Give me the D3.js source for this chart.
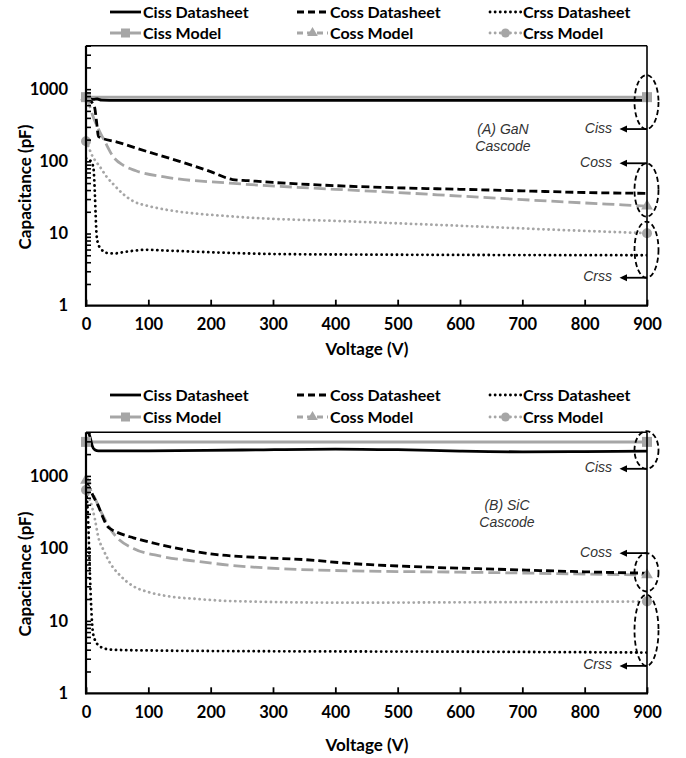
<!DOCTYPE html>
<html><head><meta charset="utf-8">
<script src="https://cdn.jsdelivr.net/npm/d3@7"></script>
<style>body{margin:0;background:#fff}svg{display:block}</style>
</head><body><svg id="c" width="686" height="758"></svg>
<script>
// ---------- DATA: [voltage (V), capacitance (pF)] ----------
// (A) GaN cascode
const ganCissDatasheet = [[0,760],[5,740],[12,720],[18,730],[25,705],[50,700],[300,700],[600,700],[900,700]];
const ganCissModel     = [[0,775],[900,775]];
const ganCossDatasheet = [[0,720],[5,700],[10,650],[14,550],[17,350],[20,220],[50,185],[100,135],[150,100],[200,72],[235,56],[260,54],[300,51],[400,46],[500,43],[600,41],[700,39],[800,37],[900,36]];
const ganCossModel     = [[0,780],[5,620],[10,450],[20,280],[30,190],[44,115],[60,88],[80,74],[130,60],[230,50],[400,41],[500,37],[600,33],[700,29.5],[800,26.5],[900,24]];
const ganCrssDatasheet = [[0,110],[8,100],[12,80],[14,40],[15.5,18],[17,9.5],[20,7],[25,6],[32,5.4],[45,5.3],[65,5.6],[95,5.95],[130,5.8],[200,5.5],[300,5.2],[450,5.1],[900,5.0]];
const ganCrssModel     = [[0,190],[4,160],[8,130],[14,105],[22,85],[32,63],[44,48],[60,35],[76,28],[100,24],[130,21.3],[236,17.2],[423,14.7],[600,12.8],[750,11.3],[900,10.1]];
// (B) SiC cascode
const sicCissDatasheet = [[0,4000],[4,3950],[7,3300],[10,2600],[14,2300],[20,2220],[100,2220],[250,2280],[400,2350],[500,2300],[600,2200],[700,2150],[800,2170],[900,2200]];
const sicCissModel     = [[0,2950],[900,2950]];
const sicCossDatasheet = [[0,800],[5,700],[11,540],[20,380],[27,270],[33,210],[42,180],[51,165],[76,140],[120,112],[160,95],[210,82],[290,74],[350,70],[423,62],[550,55],[659,51.6],[800,47.5],[900,45.5]];
const sicCossModel     = [[0,870],[5,700],[14,500],[22,350],[30,255],[40,180],[50,140],[76,100],[120,78],[180,66],[236,58],[423,49],[600,47],[750,45],[900,43]];
const sicCrssDatasheet = [[0,600],[3,300],[5,100],[7,30],[9,12],[11,7],[15,5.3],[25,4.3],[40,4.0],[100,3.9],[300,3.8],[600,3.75],[900,3.65]];
const sicCrssModel     = [[0,640],[6,480],[14,260],[20,140],[28,95],[38,64],[55,42],[76,30],[100,25],[130,22],[180,20],[236,18.7],[423,17.8],[600,18],[750,18.2],[900,18.5]];

const xTickValues = [0,100,200,300,400,500,600,700,800,900];
const yTickLabels = [1,10,100,1000];
const seriesNames = ["Ciss Datasheet","Coss Datasheet","Crss Datasheet","Ciss Model","Coss Model","Crss Model"];
const panelTitles = [["(A) GaN","Cascode"],["(B) SiC","Cascode"]];
// annotation ellipses at 900 V: [label, upper pF, lower pF, arrow at ("top"/"bottom")]
const ganAnnotations = [["Ciss",1570,280,"bottom"],["Coss",94,17.1,"top"],["Crss",14.6,2.44,"bottom"]];
const sicAnnotations = [["Ciss",4150,1254,"bottom"],["Coss",86,25.4,"top"],["Crss",22.9,2.39,"bottom"]];

// ---------- STYLE ----------
const GRAY = "#a6a6a6";
const styles = {
  "Ciss Datasheet": {color:"#000", dash:null, w:2.8},
  "Coss Datasheet": {color:"#000", dash:"8,4", w:2.8},
  "Crss Datasheet": {color:"#000", dash:"0.1,5", w:2.8, cap:"round"},
  "Ciss Model": {color:GRAY, dash:null, w:3},
  "Coss Model": {color:GRAY, dash:"12,5", w:2.8, marker:"triangle"},
  "Crss Model": {color:GRAY, dash:"0.1,5", w:2.8, cap:"round", marker:"circle"}
};
styles["Ciss Model"].marker = "square";
const FONT = "Lato, 'Open Sans', sans-serif";

const panels = [
  {top:45.7, bottom:305.7, legendY:[12,33], data:[ganCissDatasheet,ganCossDatasheet,ganCrssDatasheet,ganCissModel,ganCossModel,ganCrssModel],
   title:panelTitles[0], titleXY:[503,129], ann:ganAnnotations, yTitleCy:187, xTitleY:349},
  {top:432.3, bottom:693.3, legendY:[395,417], data:[sicCissDatasheet,sicCossDatasheet,sicCrssDatasheet,sicCissModel,sicCossModel,sicCrssModel],
   title:panelTitles[1], titleXY:[507,505], ann:sicAnnotations, yTitleCy:574, xTitleY:745}
];

const svg = d3.select("#c");
const L = 86, R = 647;

function drawMarker(g, type, cx, cy, s) {
  if (type === "square") g.append("rect").attr("x",cx-s/2).attr("y",cy-s/2).attr("width",s).attr("height",s).attr("fill",GRAY);
  else if (type === "triangle") g.append("path").attr("d",d3.symbol(d3.symbolTriangle, s*s*0.6)()).attr("transform",`translate(${cx},${cy})`).attr("fill",GRAY);
  else g.append("circle").attr("cx",cx).attr("cy",cy).attr("r",s/2).attr("fill",GRAY);
}

panels.forEach((p, pi) => {
  const x = d3.scaleLinear().domain([0,900]).range([L,R]);
  const y = d3.scaleLog().domain([1,4000]).range([p.bottom,p.top]);
  const g = svg.append("g");
  const clipId = "clip"+pi;
  svg.append("clipPath").attr("id",clipId).append("rect").attr("x",L).attr("y",p.top).attr("width",R-L).attr("height",p.bottom-p.top);

  // legend
  const lx = [110,297,490];
  seriesNames.forEach((name,i) => {
    const st = styles[name];
    const cx = lx[i%3], cy = p.legendY[Math.floor(i/3)];
    const lg = g.append("g");
    lg.append("line").attr("x1",cx).attr("x2",cx+31).attr("y1",cy).attr("y2",cy)
      .attr("stroke",st.color).attr("stroke-width",st.w)
      .attr("stroke-dasharray", name==="Coss Datasheet" ? "7,4" : name==="Coss Model" ? "6,4" : st.dash)
      .attr("stroke-linecap",st.cap||"butt");
    if (st.marker) drawMarker(lg, st.marker, cx+15.5, cy, 9);
    lg.append("text").attr("x",cx+33).attr("y",cy).attr("dy","0.36em")
      .attr("font-family",FONT).attr("font-weight","bold").attr("font-size",16).attr("fill","#000").text(name);
  });

  // series
  const line = d3.line().x(d=>x(d[0])).y(d=>y(d[1])).curve(d3.curveMonotoneX);
  const order = [3,4,5,0,1,2];
  const sg = g.append("g").attr("clip-path",`url(#${clipId})`);
  order.forEach(i => {
    const st = styles[seriesNames[i]];
    sg.append("path").datum(p.data[i]).attr("d",line).attr("fill","none")
      .attr("stroke",st.color).attr("stroke-width",st.w).attr("stroke-dasharray",st.dash)
      .attr("stroke-linecap",st.cap||"butt").attr("stroke-linejoin","round");
  });
  // markers at ends of model curves
  [3,4,5].forEach(i => {
    const st = styles[seriesNames[i]];
    const d = p.data[i];
    [d[0], d[d.length-1]].forEach(pt => drawMarker(g, st.marker, x(pt[0]), y(pt[1]), 10));
  });

  // box top / right
  g.append("line").attr("x1",L).attr("x2",R).attr("y1",p.top).attr("y2",p.top).attr("stroke","#000").attr("stroke-width",1.6);
  g.append("line").attr("x1",R).attr("x2",R).attr("y1",p.top).attr("y2",p.bottom).attr("stroke","#000").attr("stroke-width",1.6);

  // y minor ticks (inside)
  const minor = [];
  [1,10,100,1000].forEach(dec => { for (let k=1;k<=9;k++){ const v=dec*k; if (v<=4000 && v>1) minor.push(v);} });
  const yMinor = g.append("g").attr("transform",`translate(${L},0)`)
    .call(d3.axisLeft(y).tickValues(minor).tickSize(-5).tickFormat(""));
  yMinor.select(".domain").remove();
  yMinor.selectAll("line").attr("stroke","#000").attr("stroke-width",1.6);
  const yLab = g.append("g").attr("transform",`translate(${L},0)`)
    .call(d3.axisLeft(y).tickValues(yTickLabels).tickSize(0).tickPadding(18).tickFormat(d3.format("d")));
  yLab.select(".domain").remove();
  yLab.selectAll("text").attr("font-family",FONT).attr("font-weight","bold").attr("font-size",16.5).attr("fill","#000");

  // x axis
  const xa = g.append("g").attr("transform",`translate(0,${p.bottom})`)
    .call(d3.axisBottom(x).tickValues(xTickValues).tickSize(-6).tickPadding(13));
  xa.select(".domain").remove();
  xa.selectAll("line").attr("stroke","#000").attr("stroke-width",1.8);
  xa.selectAll("text").attr("font-family",FONT).attr("font-weight","bold").attr("font-size",16.5).attr("fill","#000");

  // axis lines
  g.append("line").attr("x1",L).attr("x2",L).attr("y1",p.top).attr("y2",p.bottom+1).attr("stroke","#000").attr("stroke-width",2.2);
  g.append("line").attr("x1",L-1).attr("x2",R+1).attr("y1",p.bottom).attr("y2",p.bottom).attr("stroke","#000").attr("stroke-width",2.2);

  // axis titles
  g.append("text").attr("transform",`translate(25,${p.yTitleCy}) rotate(-90)`).attr("text-anchor","middle").attr("dy","0.36em")
    .attr("font-family",FONT).attr("font-weight","bold").attr("font-size",17).text("Capacitance (pF)");
  g.append("text").attr("x",367).attr("y",p.xTitleY).attr("text-anchor","middle").attr("dy","0.36em")
    .attr("font-family",FONT).attr("font-weight","bold").attr("font-size",17).text("Voltage (V)");

  // panel title
  p.title.forEach((t,k) => g.append("text").attr("x",p.titleXY[0]).attr("y",p.titleXY[1]+k*16.5).attr("dy","0.36em")
    .attr("text-anchor","middle").attr("font-family","'Liberation Sans', Arial, sans-serif").attr("font-style","italic")
    .attr("font-size",14).attr("fill","#333").text(t));

  // annotations
  p.ann.forEach(a => {
    const yt = y(a[1]), yb = y(a[2]);
    const cx = x(900);
    g.append("ellipse").attr("cx",cx-0.5).attr("cy",(yt+yb)/2).attr("rx",12).attr("ry",(yb-yt)/2)
      .attr("fill","none").attr("stroke","#000").attr("stroke-width",1.8).attr("stroke-dasharray","5,3");
    const ay = a[3]==="top" ? yt : yb;
    g.append("line").attr("x1",cx).attr("x2",625).attr("y1",ay).attr("y2",ay).attr("stroke","#000").attr("stroke-width",1.8);
    g.append("path").attr("d",`M619.5,${ay} L627,${ay-3.5} L627,${ay+3.5} Z`).attr("fill","#000");
    g.append("text").attr("x",612).attr("y",ay-1.5).attr("dy","0.36em").attr("text-anchor","end")
      .attr("font-family","'Liberation Sans', Arial, sans-serif").attr("font-style","italic").attr("font-size",14).attr("fill","#333").text(a[0]);
  });
});
</script></body></html>
